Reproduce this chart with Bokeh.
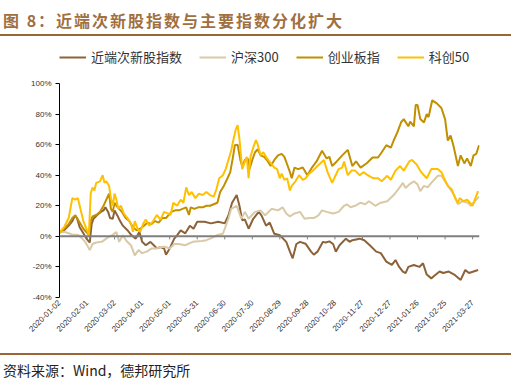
import numpy as np
import pandas as pd
from bokeh.plotting import figure
from bokeh.models import (ColumnDataSource, Legend, LegendItem, FixedTicker,
                          DatetimeTickFormatter, Range1d, Div, Span)
from bokeh.layouts import column
from bokeh.embed import file_html
from bokeh.resources import INLINE

# ---------------- data ----------------
START = "2020-01-02"
X_END_DAYS = 457.5
Y_TOP_ROOM = 124.2   # extra room above 100% for the legend (axis itself stops at 100%)

x_tick_labels = ["2020-01-02", "2020-02-01", "2020-03-02", "2020-04-01", "2020-05-01",
                 "2020-05-31", "2020-06-30", "2020-07-30", "2020-08-29", "2020-09-28",
                 "2020-10-28", "2020-11-27", "2020-12-27", "2021-01-26", "2021-02-25",
                 "2021-03-27"]
y_ticks = [-40, -20, 0, 20, 40, 60, 80, 100]
y_tick_labels = ["-40%", "-20%", "0%", "20%", "40%", "60%", "80%", "100%"]

series_names = ["近端次新股指数", "沪深300", "创业板指", "科创50"]
series_colors = ["#8C6239", "#D9C9A6", "#C09000", "#FFC000"]

# days since 2020-01-02, values in %
cixin_days = [0, 5, 10, 14, 17, 19, 22, 26, 30, 33, 35, 37, 41, 45, 48, 50, 53, 55, 58, 60,
              63, 66, 69, 74, 78, 83, 87, 90, 94, 99, 103, 106, 110, 114, 116, 120, 125, 128,
              132, 137, 142, 146, 150, 158, 165, 173, 180, 184, 188, 193, 196, 199, 202, 206,
              211, 217, 220, 225, 229, 234, 240, 247, 251, 254, 258, 262, 268, 274, 277, 281,
              287, 290, 294, 298, 301, 305, 312, 316, 319, 327, 332, 338, 345, 350, 356, 362,
              366, 370, 374, 377, 380, 386, 392, 396, 400, 405, 408, 414, 418, 424, 430, 437,
              442, 446, 451, 456]
cixin_vals = [2.5, 4, 7, 10, 13.7, 12, 6, 2, -2, -4, 8, 11.5, 14, 16, 17, 19, 16, 12, 11.5, 17,
              13.7, 10, 7, 4, 1, -1.5, 3, -3.6, -5.8, -3.6, -6, -7.9, -7, -8, -12, -8, -1.5, 0.7,
              3.9, 2, 7, 5, 9.6, 9.6, 8.5, 9.6, 8.5, 13.7, 22, 27, 20, 10.6, 11, 5,
              11.5, 16, 13.7, 7, 9, 1.7, 0.7, -3.6, -10, -14.4, -5, -3.6, -4.8, -10, -12, -10,
              -3.6, -4, -3.3, -5, -10, -5.8, -1.5, -3.6, -2.5, -1.5, -2.5, -5.8, -10, -11, -16.5, -18.7,
              -15.5, -20, -23, -24, -20, -18.7, -20, -17.6, -25, -27.5, -26, -23, -24, -23, -25, -28.5,
              -22, -24, -23, -22]

hs300_days = [0, 5, 10, 15, 20, 24, 28, 33, 36, 40, 46, 52, 55, 58, 62, 65, 69, 73, 78, 82,
              86, 90, 95, 100, 105, 110, 115, 120, 125, 130, 137, 145, 155, 160, 166, 171, 178,
              184, 187, 193, 198, 202, 206, 213, 219, 224, 231, 238, 243, 247, 251, 256, 262,
              267, 272, 277, 282, 286, 291, 298, 304, 310, 313, 317, 322, 328, 333, 337, 344,
              350, 357, 364, 370, 374, 377, 381, 386, 390, 393, 397, 401, 405, 412, 416, 421,
              427, 430, 434, 439, 445, 448, 454, 457]
hs300_vals = [2.5, 3, 2, 1, 1, -1, -3.6, -9, -5, -4, -3.6, -1, 0, 1, 2.8, -3.6, 0.7, -3, -6, -12.4,
              -9, -11, -10, -8, -8, -7, -6.8, -8, -5, -5, -5.8, -3.6, -3, -2.5, -1, 0.7, 1.7,
              11.5, 18, 20, 11.5, 16, 11.5, 16, 17, 13.7, 18, 17, 19, 15, 13, 15, 16,
              11.5, 12, 12, 13.7, 17, 16, 15, 16, 20, 21, 19, 20, 22, 21, 23, 20,
              22, 23, 27, 31.6, 35, 31.6, 34, 36, 34, 29.6, 33, 32, 35, 39.6, 39.6, 35,
              29.6, 27, 21, 23, 22, 20, 24, 26]

cyb_days = [0, 5, 10, 14, 17, 19, 22, 26, 32, 34, 36, 40, 44, 48, 51, 54, 56, 58, 60, 62,
            65, 68, 72, 76, 80, 84, 88, 92, 96, 100, 104, 108, 112, 116, 119, 122, 126, 130,
            134, 138, 141, 143, 147, 151, 156, 160, 164, 168, 172, 175, 179, 183, 186, 189,
            191, 194, 197, 199, 202, 205, 207, 210, 213, 216, 219, 223, 227, 230, 234, 238,
            242, 245, 248, 251, 253, 256, 260, 265, 270, 275, 280, 286, 291, 294, 297, 302,
            308, 314, 319, 323, 328, 335, 341, 347, 351, 356, 361, 364, 368, 372, 375, 380,
            382, 386, 388, 390, 393, 397, 400, 402, 406, 411, 416, 420, 423, 426, 429, 434,
            437, 441, 444, 448, 451, 454, 457]
cyb_vals = [2.5, 5, 8, 12, 13.7, 12, 9, 5, 1, 10, 13, 14, 16, 20, 24, 28, 18, 16, 22, 20,
            18, 16, 12, 10, 6, 4, 5, 7, 9, 8, 10, 9, 12, 12, 14, 16, 17, 17,
            18, 19, 14, 19, 18, 19, 19, 20, 20, 21, 22, 29, 33, 38, 42, 52,
            59.6, 60, 50, 46, 50, 51, 44, 50, 55, 57, 53, 52, 49, 46, 50, 53,
            54, 52, 47, 42, 38, 45, 44, 45, 40, 45, 49, 56, 51, 52, 46, 49,
            53, 56.6, 46, 49, 45, 48, 51.6, 51.6, 55, 59.6, 58, 62.7, 68, 74.5, 76.7, 72,
            75, 72, 86, 86, 76.7, 74.5, 80, 78, 89, 87, 84, 76.7, 62.7, 66, 59.6, 46,
            53, 47.7, 51, 46, 53, 54, 59.6]

kc50_days = [0, 5, 10, 14, 17, 20, 22, 26, 32, 34, 36, 38, 40, 44, 47, 49, 51, 54, 56, 58,
             60, 62, 64, 67, 70, 74, 78, 80, 82, 85, 88, 91, 94, 98, 102, 106, 110, 114, 118,
             121, 124, 128, 132, 135, 138, 141, 144, 148, 152, 156, 160, 164, 168, 171, 174,
             178, 181, 184, 187, 189, 192, 194, 196, 199, 202, 204, 206, 208, 211, 214, 216,
             219, 222, 226, 230, 234, 237, 240, 242, 245, 248, 251, 253, 257, 261, 265, 268,
             272, 276, 281, 288, 292, 297, 300, 304, 308, 310, 314, 318, 322, 327, 331, 337,
             342, 347, 351, 357, 361, 366, 371, 375, 381, 384, 389, 394, 397, 400, 405, 412,
             416, 419, 423, 427, 431, 434, 436, 440, 444, 447, 450, 453, 456]
kc50_vals = [2.5, 6, 12, 25, 24, 25, 20, 10, 1, 28, 32, 30, 35, 36, 40, 35, 36, 33, 25, 20,
             28, 24, 18, 20, 15, 12, 8, 3, 10, 5, 3, 8, 11, 7, 10, 14, 11, 16, 15,
             14, 22, 20, 24, 22, 32, 27, 29, 25, 28, 27, 29, 27, 26, 31, 38,
             40, 44, 50, 56, 62, 70, 72.7, 64, 44, 49, 52, 38, 52, 58, 63, 60,
             53, 55, 51, 48, 45, 44, 38, 41, 37, 38, 30, 33, 36, 40, 37, 38,
             41, 43, 46, 50, 42, 35, 39, 44, 45, 49, 40, 43, 43, 40, 42, 39.6,
             38, 38, 36, 39.6, 37, 43, 46, 43, 49, 50, 47, 42, 40, 38, 44, 44,
             42, 38, 33, 31, 25, 22, 25, 23, 24, 22, 20, 25, 29.6]

series_days = [cixin_days, hs300_days, cyb_days, kc50_days]
series_vals = [cixin_vals, hs300_vals, cyb_vals, kc50_vals]

# ---------------- figure ----------------
t0 = pd.Timestamp(START)
def to_dates(days):
    return (t0 + pd.to_timedelta(np.asarray(days, dtype=float), unit="D")).to_numpy()

tick_dates = pd.to_datetime(x_tick_labels).to_numpy()
tick_ms = [int(pd.Timestamp(s).value // 10**6) for s in x_tick_labels]

W = 514
p = figure(width=W, height=317, output_backend="svg", toolbar_location=None,
           x_axis_type="datetime",
           x_range=Range1d(t0, t0 + pd.Timedelta(days=X_END_DAYS)),
           y_range=Range1d(y_ticks[0], Y_TOP_ROOM),
           min_border_left=59, min_border_right=35, min_border_top=10, min_border_bottom=56)
p.margin = 0
p.outline_line_color = None
p.grid.visible = False
p.background_fill_color = "white"
p.border_fill_color = "white"

fmt = "%Y-%m-%d"
dt_fmt = DatetimeTickFormatter(milliseconds=fmt, seconds=fmt, minsec=fmt, minutes=fmt,
                               hourmin=fmt, hours=fmt, days=fmt, months=fmt, years=fmt)

xa = p.xaxis[0]
xa.ticker = FixedTicker(ticks=tick_ms)
xa.formatter = dt_fmt
xa.axis_line_color = None
xa.major_tick_line_color = None
xa.minor_tick_line_color = None
xa.major_tick_out = 0
xa.major_tick_in = 0
xa.major_label_orientation = np.pi / 4
xa.major_label_standoff = 4
xa.major_label_text_font = "Liberation Sans"
xa.major_label_text_font_size = "8px"
xa.major_label_text_color = "#333333"

ya = p.yaxis[0]
ya.ticker = FixedTicker(ticks=y_ticks)
ya.bounds = (y_ticks[0], y_ticks[-1])
ya.major_label_overrides = dict(zip(y_ticks, y_tick_labels))
ya.axis_line_color = "#000000"
ya.axis_line_width = 1
ya.major_tick_line_color = "#000000"
ya.major_tick_out = 4
ya.major_tick_in = 0
ya.minor_tick_line_color = None
ya.major_label_standoff = 4
ya.major_label_text_font = "Liberation Sans"
ya.major_label_text_font_size = "8px"
ya.major_label_text_color = "#333333"

# zero line and its tick marks
p.segment(x0=tick_dates, y0=[0] * len(tick_dates), x1=tick_dates, y1=[-2] * len(tick_dates),
          line_color="#7F7F7F", line_width=1)
p.add_layout(Span(location=0, dimension="width", line_color="#7F7F7F", line_width=2))

items = []
for name, color, days, vals in zip(series_names, series_colors, series_days, series_vals):
    src = ColumnDataSource(data=dict(x=to_dates(days), y=vals))
    r = p.line("x", "y", source=src, line_color=color, line_width=2)
    items.append(LegendItem(label=name, renderers=[r]))

legend = Legend(items=items, orientation="horizontal", location=(0, 231),
                glyph_width=27, glyph_height=14, label_height=14, label_standoff=5,
                spacing=17, padding=2, margin=0, border_line_color=None,
                background_fill_alpha=0,
                label_text_font="Noto Sans CJK SC", label_text_font_size="13px",
                label_text_color="#333333")
p.add_layout(legend)

title_div = Div(text="图 8：近端次新股指数与主要指数分化扩大", width=W - 3, height=36, margin=0,
                styles={"font-family": "'Noto Sans CJK SC'", "font-size": "16px",
                        "font-weight": "bold", "color": "#A0703F", "letter-spacing": "2px",
                        "line-height": "40px", "padding-left": "3px",
                        "border-bottom": "2px solid #9C6535"})
source_div = Div(text="资料来源：Wind，德邦研究所", width=W - 3, height=31, margin=0,
                 styles={"font-family": "'Noto Sans CJK SC'", "font-size": "14px",
                         "color": "#222222", "line-height": "30px", "padding-left": "3px",
                         "border-top": "2px solid #9C6535"})

layout = column(title_div, p, source_div, spacing=0)

open("out.html", "w").write(file_html(layout, INLINE))
